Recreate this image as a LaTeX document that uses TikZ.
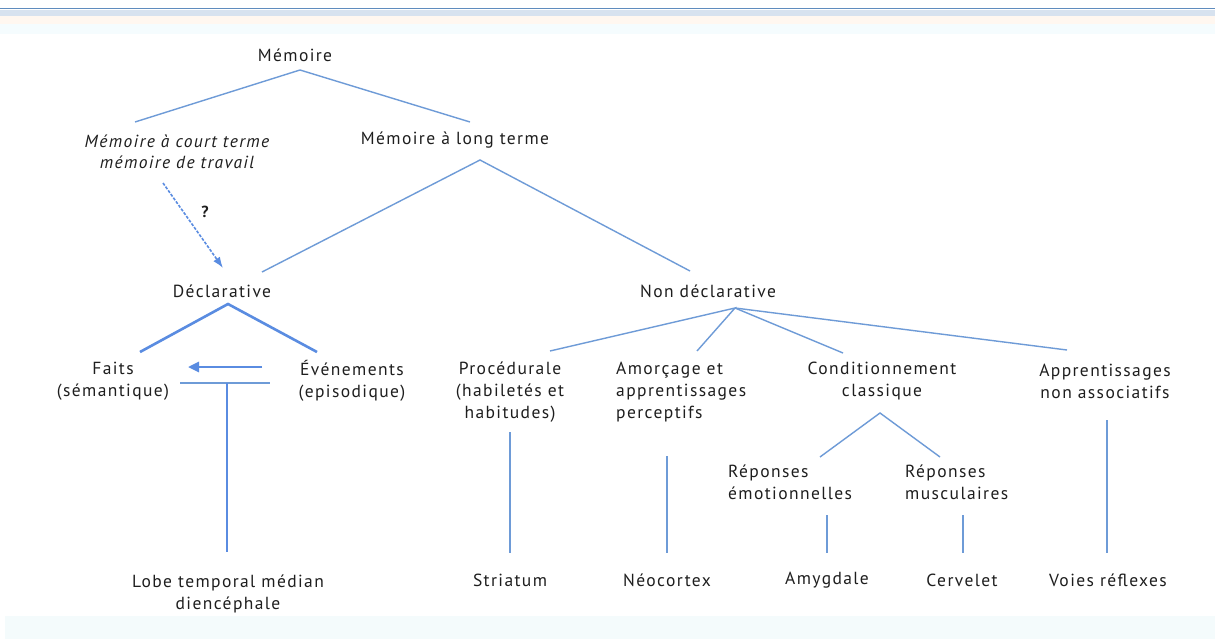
\documentclass[tikz,border=0pt]{standalone}
\usepackage{fontspec}
\setmainfont[LetterSpace=8]{PT Sans}
\usetikzlibrary{arrows.meta}
\definecolor{lnblue}{RGB}{110,155,215}
\definecolor{thkblue}{RGB}{90,140,225}
\definecolor{txtgray}{RGB}{30,30,30}
\definecolor{bandcyan}{RGB}{244,251,252}
\definecolor{topblue}{RGB}{95,140,190}
\tikzset{
  lbl/.style={inner sep=0pt, align=center, text=txtgray, font=\fontsize{17.5}{22}\selectfont},
  tline/.style={draw=lnblue, line width=1.4pt},
  thk/.style={draw=thkblue, line width=2.6pt},
}
\begin{document}
\begin{tikzpicture}[x=1pt,y=-1pt]
\useasboundingbox (0,0) rectangle (1215,639);
% frame decorations
\fill[white] (0,0) rectangle (1215,639);
\fill[bandcyan] (5,616) rectangle (1215,639);
\fill[topblue!25] (0,10) rectangle (1215,16);
\fill[orange!6] (0,16) rectangle (1215,24);
\fill[cyan!4] (0,24) rectangle (1215,34);
\draw[topblue, line width=1.5pt] (0,8.5) -- (1215,8.5);

% nodes
\node[lbl] (mem) at (295,55) {Mémoire};
\node[lbl, font=\fontsize{17.5}{21}\selectfont\itshape] (mct) at (177,152) {Mémoire à court terme\\mémoire de travail};
\node[lbl] (mlt) at (455,140) {Mémoire à long terme};
\node[lbl] (decl) at (222,291) {Déclarative};
\node[lbl] (ndecl) at (708,291) {Non déclarative};
\node[lbl] (faits) at (113,381) {Faits\\(sémantique)};
\node[lbl] (even) at (352,381) {Événements\\(episodique)};
\node[lbl] (proc) at (510,392) {Procédurale\\(habiletés et\\habitudes)};
\node[lbl, align=left, anchor=west] (amor) at (616,392) {Amorçage et\\apprentissages\\perceptifs};
\node[lbl] (cond) at (882,381) {Conditionnement\\classique};
\node[lbl] (appr) at (1105,381) {Apprentissages\\non associatifs};
\node[lbl, align=left, anchor=west] (remo) at (728,482) {Réponses\\émotionnelles};
\node[lbl, align=left, anchor=west] (rmus) at (905,482) {Réponses\\musculaires};
\node[lbl] (lobe) at (228,594) {Lobe temporal médian\\diencéphale};
\node[lbl] (stri) at (510,580) {Striatum};
\node[lbl] (neo) at (667,580) {Néocortex};
\node[lbl] (amy) at (827,580) {Amygdale};
\node[lbl] (cerv) at (962,580) {Cervelet};
\node[lbl] (voies) at (1108,580) {Voies réflexes};
\node[font=\bfseries\fontsize{16}{16}\selectfont, text=txtgray, inner sep=0pt] (q) at (205,212) {?};

% connector points
\coordinate (memA) at (300,70);
\coordinate (mctT) at (135,122);
\coordinate (mltT) at (470,122);
\coordinate (mltA) at (480,160);
\coordinate (declT) at (262,272);
\coordinate (ndeclT) at (690,271);
\coordinate (declA) at (228,304);
\coordinate (faitsT) at (140,352);
\coordinate (evenT) at (317,352);
\coordinate (ndeclA) at (735,308);
\coordinate (procT) at (550,351);
\coordinate (amorT) at (697,351);
\coordinate (condT) at (843,353);
\coordinate (apprT) at (1067,350);
\coordinate (condA) at (880,413);
\coordinate (remoT) at (820,457);
\coordinate (rmusT) at (940,457);
\coordinate (mctB) at (163,183);
\coordinate (declArr) at (223,268);
\coordinate (arrS) at (262,367);
\coordinate (arrE) at (188,367);
\coordinate (barL) at (180,383);
\coordinate (barR) at (270,383);
\coordinate (barM) at (227,383);
\coordinate (lobeT) at (227,552);
\coordinate (procB) at (510,432);
\coordinate (striT) at (510,553);
\coordinate (amorB) at (667,456);
\coordinate (neoT) at (667,553);
\coordinate (remoB) at (827,515);
\coordinate (amyT) at (827,553);
\coordinate (rmusB) at (963,515);
\coordinate (cervT) at (963,553);
\coordinate (apprB) at (1107,420);
\coordinate (voiesT) at (1107,553);

% tree lines
\draw[tline] (mctT) -- (memA) -- (mltT);
\draw[tline] (declT) -- (mltA) -- (ndeclT);
\draw[tline] (procT) -- (ndeclA) -- (amorT);
\draw[tline] (ndeclA) -- (condT);
\draw[tline] (ndeclA) -- (apprT);
\draw[tline] (remoT) -- (condA) -- (rmusT);
\draw[thk] (faitsT) -- (declA) -- (evenT);

% dashed arrow
\draw[draw=thkblue, line width=1.6pt, dash pattern=on 3pt off 1.5pt, -{Latex[length=11pt,width=8pt]}] (mctB) -- (declArr);
% semantic arrow
\draw[thk, -{Triangle[length=11pt,width=10pt]}] (arrS) -- (arrE);
\draw[draw=lnblue, line width=2.2pt] (barL) -- (barR);
\draw[thk] (barM) -- (lobeT);

% vertical lines to structures
\draw[tline] (procB) -- (striT);
\draw[tline, line width=2pt] (amorB) -- (neoT);
\draw[tline] (remoB) -- (amyT);
\draw[tline] (rmusB) -- (cervT);
\draw[tline] (apprB) -- (voiesT);
\end{tikzpicture}
\end{document}
